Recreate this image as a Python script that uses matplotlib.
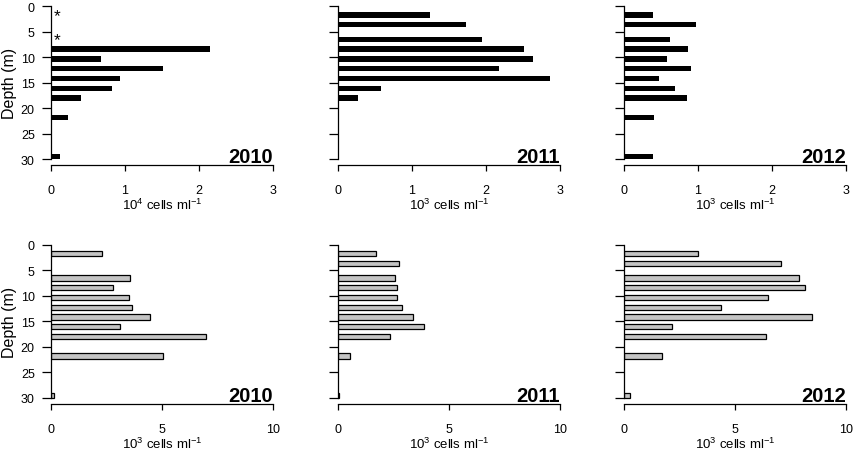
import numpy as np
import matplotlib
matplotlib.use("Agg")
import matplotlib.pyplot as plt

plt.rcParams['font.family'] = ['Liberation Sans', 'DejaVu Sans']
plt.rcParams['mathtext.default'] = 'regular'

# sampling depths (m) and cell counts; nan = no sample / no bar
depths = [1, 3, 6, 8, 10, 12, 14, 16, 18, 22, 30]
years = ["2010", "2011", "2012"]

# top row (black bars)
top_2010 = [np.nan, np.nan, np.nan, 2.15, 0.68, 1.51, 0.94, 0.83, 0.41, 0.24, 0.12]
top_2011 = [1.25, 1.73, 1.95, 2.51, 2.63, 2.17, 2.86, 0.58, 0.27, np.nan, np.nan]
top_2012 = [0.39, 0.98, 0.62, 0.87, 0.58, 0.91, 0.48, 0.69, 0.86, 0.41, 0.39]
top_units = ["10$^{4}$ cells ml$^{-1}$", "10$^{3}$ cells ml$^{-1}$", "10$^{3}$ cells ml$^{-1}$"]
top_xticks = [0, 1, 2, 3]
missing_2010 = [1, 6]   # depths marked with *

# bottom row (grey bars)
bot_2010 = [2.29, np.nan, 3.55, 2.81, 3.53, 3.65, 4.46, 3.13, 6.99, 5.07, 0.16]
bot_2011 = [1.74, 2.75, 2.57, 2.66, 2.65, 2.90, 3.38, 3.89, 2.36, 0.57, 0.04]
bot_2012 = [3.33, 7.07, 7.90, 8.14, 6.47, 4.37, 8.47, 2.16, 6.40, 1.71, 0.29]
bot_units = ["10$^{3}$ cells ml$^{-1}$"] * 3
bot_xticks = [0, 5, 10]

depth_ticks = [0, 5, 10, 15, 20, 25, 30]

# barplot-style geometry: bars sit on a slightly compressed grid
BAR_OFFSET = 0.74
BAR_STEP = 0.958
BAR_HEIGHT = 1.05

W, H = 856, 456
fig = plt.figure(figsize=(W / 100, H / 100), dpi=100)

lefts = [50.7, 337.7, 623.7]
panel_w = 222.4
rows = [(1.2, 166.4), (239.6, 405.1)]


def bar_pos(d):
    return BAR_OFFSET + BAR_STEP * np.asarray(d, dtype=float)


def draw_panel(ax, values, xticks, unit, year, face, edge, show_ylab):
    vals = np.asarray(values, dtype=float)
    ok = ~np.isnan(vals)
    ax.barh(bar_pos(np.array(depths)[ok]), vals[ok], height=BAR_HEIGHT,
            color=face, edgecolor=edge, linewidth=0.9 if edge != face else 0)

    ax.set_ylim(31.2, -1.2)
    ax.set_xlim(0, xticks[-1])
    for s in ['top', 'right']:
        ax.spines[s].set_visible(False)
    ax.spines['left'].set_bounds(0, 30)
    ax.spines['bottom'].set_bounds(0, xticks[-1])
    for s in ['left', 'bottom']:
        ax.spines[s].set_linewidth(0.9)

    ax.set_yticks(depth_ticks)
    ax.set_xticks(xticks)
    ax.tick_params(axis='y', direction='out', length=6.5, width=0.9, pad=5, labelsize=9)
    ax.tick_params(axis='x', direction='out', length=4.3, width=0.9, pad=9, labelsize=9)
    if show_ylab:
        ax.set_ylabel("Depth (m)", fontsize=11.5, labelpad=3)
    else:
        ax.set_yticklabels([])
    ax.set_xlabel(unit, fontsize=9.5, labelpad=1)
    ax.text(xticks[-1], 30.6, year, ha='right', va='baseline',
            fontsize=14.5, fontweight='bold')


top_vals = [top_2010, top_2011, top_2012]
bot_vals = [bot_2010, bot_2011, bot_2012]

for r, (y_top, y_bot) in enumerate(rows):
    for c in range(3):
        ax = fig.add_axes([lefts[c] / W, 1 - y_bot / H, panel_w / W, (y_bot - y_top) / H])
        if r == 0:
            draw_panel(ax, top_vals[c], top_xticks, top_units[c], years[c],
                       'black', 'black', c == 0)
            if c == 0:
                for d in missing_2010:
                    ax.annotate("*", xy=(0.085, bar_pos(d)), xytext=(0, -3.5),
                                textcoords='offset points', ha='center',
                                va='baseline', fontsize=12.5)
        else:
            draw_panel(ax, bot_vals[c], bot_xticks, bot_units[c], years[c],
                       '#c4c4c4', 'black', c == 0)

fig.savefig("out.png", dpi=100)
